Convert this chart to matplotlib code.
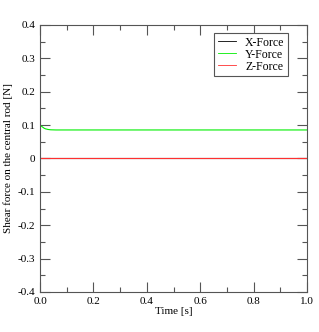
import numpy as np
import matplotlib.pyplot as plt
from matplotlib.ticker import MultipleLocator, FuncFormatter

# Time samples and forces
t = [0.0, 0.005, 0.01, 0.015, 0.02, 0.03, 0.04, 0.06, 0.1, 0.3, 0.5, 0.7, 0.9, 1.0]
fx = [0.0, 0.0, 0.0, 0.0, 0.0, 0.0, 0.0, 0.0, 0.0, 0.0, 0.0, 0.0, 0.0, 0.0]
fy = [0.1, 0.097, 0.094, 0.091, 0.089, 0.087, 0.086, 0.0855, 0.0855, 0.0855, 0.0855, 0.0855, 0.0855, 0.0855]
fz = [0.0, 0.0, 0.0, 0.0, 0.0, 0.0, 0.0, 0.0, 0.0, 0.0, 0.0, 0.0, 0.0, 0.0]

plt.rcParams['font.family'] = 'Liberation Serif'
plt.rcParams['font.size'] = 8

fig = plt.figure(figsize=(3.19, 3.32), dpi=100)
ax = fig.add_axes([0.1254, 0.1205, 0.837, 0.8042])

ax.plot(t, fx, color='black', lw=0.8, label='X-Force')
ax.plot(t, fy, color='#00ee00', lw=0.8, label='Y-Force')
ax.plot(t, fz, color='#ff3030', lw=0.8, label='Z-Force')

ax.set_xlim(0, 1)
ax.set_ylim(-0.4, 0.4)
ax.xaxis.set_major_locator(MultipleLocator(0.2))
ax.xaxis.set_minor_locator(MultipleLocator(0.1))
ax.yaxis.set_major_locator(MultipleLocator(0.1))
ax.yaxis.set_minor_locator(MultipleLocator(0.05))
ax.xaxis.set_major_formatter(FuncFormatter(lambda v, p: '%.1f' % v))
ax.yaxis.set_major_formatter(FuncFormatter(lambda v, p: '0' if abs(v) < 1e-9 else ('%.1f' % v)))
ax.tick_params(which='both', direction='in', top=True, right=True, colors='#555555', labelcolor='black', width=0.8)
ax.tick_params(which='major', length=7)
ax.tick_params(which='minor', length=3.5)
for s in ax.spines.values():
    s.set_color('#555555')
    s.set_linewidth(0.8)

ax.set_xlabel('Time [s]', labelpad=1)
ax.set_ylabel('Shear force on the central rod [N]', labelpad=3)

leg = ax.legend(loc='upper right', bbox_to_anchor=(0.929, 0.97), fancybox=False,
                edgecolor='#555555', handlelength=1.5, handletextpad=0.8,
                borderpad=0.3, labelspacing=0.0, borderaxespad=0, framealpha=1,
                fontsize=8.5)
leg.get_frame().set_linewidth(0.8)
for h in leg.get_lines():
    h.set_linewidth(0.6)

fig.savefig('out.png', dpi=100)
